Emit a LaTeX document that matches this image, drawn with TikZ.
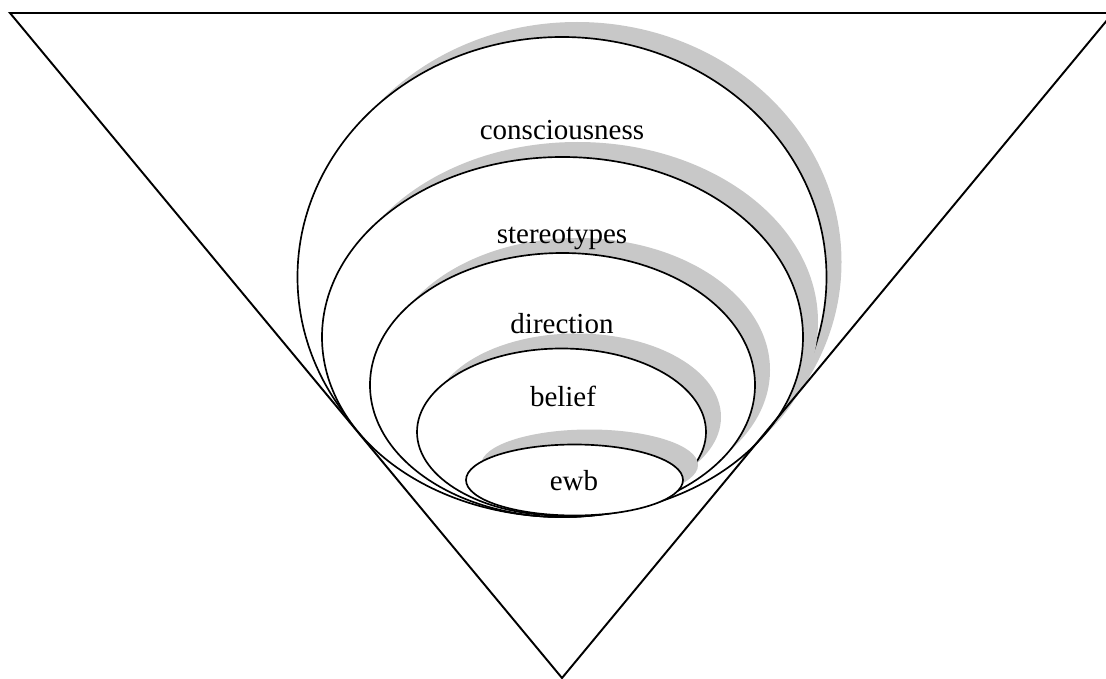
\documentclass[tikz,border=0pt]{standalone}
\usepackage{fontspec}
\setmainfont{Liberation Serif}
\definecolor{shadowgray}{RGB}{200,200,200}
\tikzset{
	ring/.style={draw=black, fill=white, line width=0.95pt},
	ringshadow/.style={fill=shadowgray},
	ringlabel/.style={anchor=base, inner sep=0pt, font=\fontsize{16.5}{19}\selectfont}
}

\begin{document}
\begin{tikzpicture}[x=0.02cm, y=-0.02cm]
		\useasboundingbox (0, 0) rectangle (1106, 679);
		\def\dx{15} \def\dy{-15}
		% consciousness
		\fill [ringshadow] ({562+\dx}, {277+\dy}) ellipse [x radius = 264.5, y radius = 240];
		\draw [ring] (562, 277) ellipse [x radius = 264.5, y radius = 240];
		% stereotypes
		\fill [ringshadow] ({562.5+\dx}, {337+\dy}) ellipse [x radius = 240.5, y radius = 180];
		\draw [ring] (562.5, 337) ellipse [x radius = 240.5, y radius = 180];
		% direction
		\fill [ringshadow] ({562.5+\dx}, {385+\dy}) ellipse [x radius = 192.5, y radius = 132];
		\draw [ring] (562.5, 385) ellipse [x radius = 192.5, y radius = 132];
		% belief
		\fill [ringshadow] ({561.5+\dx}, {432+\dy}) ellipse [x radius = 144.5, y radius = 83.5];
		\draw [ring] (561.5, 432) ellipse [x radius = 144.5, y radius = 83.5];
		% ewb
		\fill [ringshadow] ({574.5+\dx}, {480+\dy}) ellipse [x radius = 108.5, y radius = 35.5];
		\draw [ring] (574.5, 480) ellipse [x radius = 108.5, y radius = 35.5];
		% labels
		\node [ringlabel] (consciousness) at (562, 140) {consciousness};
		\node [ringlabel] (stereotypes) at (562, 243) {stereotypes};
		\node [ringlabel] (direction) at (562, 333) {direction};
		\node [ringlabel] (belief) at (563, 406) {belief};
		\node [ringlabel] (ewb) at (574, 490) {ewb};
		% funnel
		\coordinate (topleft) at (10, 13);
		\coordinate (topright) at (1113, 13);
		\coordinate (apex) at (562, 678);
		\draw [line width = 1.1pt, line join = miter] (topleft) -- (topright) -- (apex) -- cycle;
	\end{tikzpicture}
\end{document}
